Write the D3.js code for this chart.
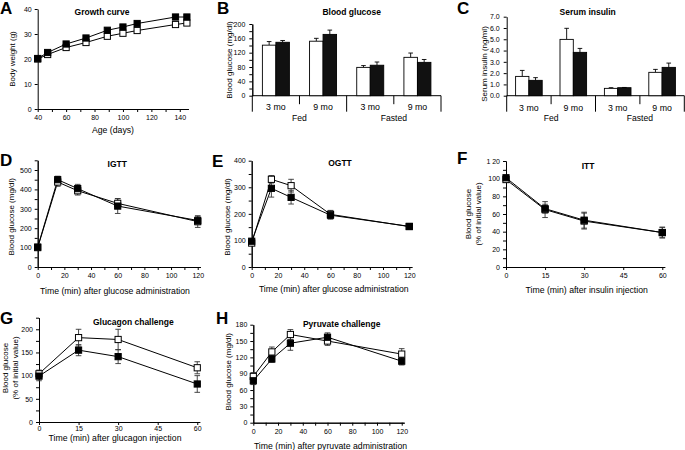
<!DOCTYPE html>
<html><head><meta charset="utf-8">
<script src="https://cdn.jsdelivr.net/npm/d3@7"></script>
<style>
body{margin:0;background:#fff}
svg{display:block;font-family:"Liberation Sans",Arial,Helvetica,sans-serif}
</style>
</head><body>
<svg id="chart" width="685" height="450"></svg>
<script>
// ---------- DATA ----------
// A: growth curve
const ageDays      = [40, 47, 60, 74, 89, 100, 110, 137, 145];
const weightFilled = [20.2, 22.6, 26.0, 28.4, 31.5, 32.8, 34.2, 36.8, 36.8];
const weightOpen   = [20.0, 21.8, 24.6, 26.6, 29.1, 30.3, 31.4, 33.8, 34.4];
const ageTicks     = [40, 60, 80, 100, 120, 140];
const weightTicks  = [0, 10, 20, 30, 40];

// B / C: bar panels
const barSubLabels   = ["3 mo", "9 mo", "3 mo", "9 mo"];
const barGroupLabels = ["Fed", "Fasted"];
const glucOpen       = [141, 152, 79, 107];
const glucOpenErr    = [10, 8, 5, 12];
const glucFilled     = [149, 171, 85, 93];
const glucFilledErr  = [5, 12, 9, 8];
const glucTicks      = [0, 40, 80, 120, 160, 200];
const insOpen        = [1.71, 4.99, 0.65, 2.07];
const insOpenErr     = [0.53, 0.98, 0.06, 0.26];
const insFilled      = [1.36, 3.84, 0.71, 2.51];
const insFilledErr   = [0.24, 0.35, 0.02, 0.38];
const insTicks       = [0, 1, 2, 3, 4, 5, 6, 7];

// D: IGTT
const tolTime         = [0, 15, 30, 60, 120];
const igttOpen        = [100, 438, 393, 328, 234];
const igttOpenErr     = [8, 22, 22, 25, 30];
const igttFilled      = [103, 450, 404, 314, 240];
const igttFilledErr   = [8, 18, 22, 38, 22];
const igttYTicks      = [0, 100, 200, 300, 400, 500];
// E: OGTT
const ogttOpen        = [90, 330, 306, 198, 152];
const ogttOpenErr     = [8, 14, 24, 15, 10];
const ogttFilled      = [97, 296, 262, 195, 153];
const ogttFilledErr   = [8, 33, 25, 15, 10];
const ogttYTicks      = [0, 100, 200, 300, 400];
const time120Ticks    = [0, 20, 40, 60, 80, 100, 120];
// F: ITT
const shortTime       = [0, 15, 30, 60];
const ittOpen         = [99, 65, 52, 39];
const ittOpenErr      = [3, 9, 9, 6];
const ittFilled       = [101, 66, 53, 39];
const ittFilledErr    = [3, 5, 9, 6];
const ittYTicks       = [0, 20, 40, 60, 80, 100, 120];
const ittYLabels      = ["0", "20", "40", "60", "80", "100", "1 20"];
const time60Ticks     = [0, 15, 30, 45, 60];
// G: glucagon
const glucagonOpen      = [104, 182, 178, 117];
const glucagonOpenErr   = [8, 18, 22, 13];
const glucagonFilled    = [99, 155, 141, 82];
const glucagonFilledErr = [10, 12, 15, 18];
const glucagonYTicks    = [0, 50, 100, 150, 200];
// H: pyruvate
const pyrOpen         = [85, 130, 162, 150, 126];
const pyrOpenErr      = [7, 9, 9, 8, 10];
const pyrFilled       = [77, 117, 146, 157, 113];
const pyrFilledErr    = [7, 6, 13, 8, 7];
const pyrYTicks       = [0, 30, 60, 90, 120, 150, 180];

// ---------- DRAW ----------
const svg = d3.select("#chart");
const TICK_FS = 7, XLAB_FS = 8.7, YLAB_FS = 8, TITLE_FS = 8.5;

function letter(t, x, y) {
  svg.append("text").attr("x", x).attr("y", y).attr("font-size", 17)
    .attr("font-weight", "bold").text(t);
}
function title(t, x, y) {
  svg.append("text").attr("x", x).attr("y", y).attr("text-anchor", "middle")
    .attr("font-size", TITLE_FS).attr("font-weight", "bold").text(t);
}
function ylabel(lines, cx, cy) {
  const g = svg.append("g").attr("transform", `translate(${cx},${cy}) rotate(-90)`);
  const n = lines.length;
  lines.forEach((l, i) => {
    g.append("text").attr("x", 0).attr("y", (i - (n - 1) / 2) * 9.5 + 3)
      .attr("text-anchor", "middle").attr("font-size", YLAB_FS).text(l);
  });
}
function xlabel(t, cx, y) {
  svg.append("text").attr("x", cx).attr("y", y).attr("text-anchor", "middle")
    .attr("font-size", XLAB_FS).text(t);
}
function styleAxis(g) {
  g.selectAll("path,line").attr("stroke", "#000").attr("stroke-width", 1);
  g.selectAll("text").attr("font-size", TICK_FS).attr("fill", "#000")
    .attr("font-family", "Liberation Sans, Arial, sans-serif");
}

function linePanel(cfg) {
  const x = d3.scaleLinear().domain(cfg.xDomain).range(cfg.xRange);
  const y = d3.scaleLinear().domain(cfg.yDomain).range(cfg.yRange);
  const y0 = cfg.yRange[0], x0 = cfg.xRange[0];
  const xPad = cfg.xPad != null ? cfg.xPad : 3;
  if (cfg.xMinor) {
    const gm = svg.append("g").attr("transform", `translate(0,${y0})`)
      .call(d3.axisBottom(x).tickValues(cfg.xMinor).tickSize(3).tickSizeOuter(0).tickFormat(""));
    styleAxis(gm);
  }
  if (cfg.yMinor) {
    const gm = svg.append("g").attr("transform", `translate(${x0},0)`)
      .call(d3.axisLeft(y).tickValues(cfg.yMinor).tickSize(3).tickSizeOuter(0).tickFormat(""));
    styleAxis(gm);
  }
  const gx = svg.append("g").attr("transform", `translate(0,${y0})`)
    .call(d3.axisBottom(x).tickValues(cfg.xTicks).tickSize(3).tickSizeOuter(0).tickPadding(xPad));
  styleAxis(gx);
  const yAxis = d3.axisLeft(y).tickValues(cfg.yTicks).tickSize(3).tickSizeOuter(0).tickPadding(3);
  if (cfg.yLabels) yAxis.tickFormat((d, i) => cfg.yLabels[i]);
  const gy = svg.append("g").attr("transform", `translate(${x0},0)`).call(yAxis);
  styleAxis(gy);

  const line = d3.line().x(d => x(d[0])).y(d => y(d[1]));
  const series = [
    {v: cfg.open, e: cfg.openErr, fill: "#fff"},
    {v: cfg.filled, e: cfg.filledErr, fill: "#000"}
  ];
  const cap = 2.8;
  series.forEach(s => {
    const pts = cfg.xs.map((t, i) => [t, s.v[i]]);
    svg.append("path").datum(pts).attr("d", line).attr("fill", "none")
      .attr("stroke", "#000").attr("stroke-width", 1);
  });
  series.forEach(s => {
    if (!s.e) return;
    cfg.xs.forEach((t, i) => {
      const cx = x(t), top = y(s.v[i] + s.e[i]), bot = y(s.v[i] - s.e[i]);
      const g = svg.append("g").attr("stroke", "#333").attr("stroke-width", 0.9);
      g.append("line").attr("x1", cx).attr("x2", cx).attr("y1", top).attr("y2", bot);
      g.append("line").attr("x1", cx - cap).attr("x2", cx + cap).attr("y1", top).attr("y2", top);
      g.append("line").attr("x1", cx - cap).attr("x2", cx + cap).attr("y1", bot).attr("y2", bot);
    });
  });
  const ms = 6.2;
  series.forEach(s => {
    svg.append("g").selectAll("rect").data(cfg.xs.map((t, i) => [t, s.v[i]])).join("rect")
      .attr("x", d => x(d[0]) - ms / 2).attr("y", d => y(d[1]) - ms / 2)
      .attr("width", ms).attr("height", ms)
      .attr("fill", s.fill).attr("stroke", "#000").attr("stroke-width", 1);
  });
}

function barPanel(cfg) {
  const y = d3.scaleLinear().domain(cfg.yDomain).range(cfg.yRange);
  const base = cfg.yRange[0];
  const xb = d3.scaleBand().domain(d3.range(cfg.open.length)).range(cfg.xRange).padding(0);
  const bw = cfg.barW;
  if (cfg.yMinor) {
    const gm = svg.append("g").attr("transform", `translate(${cfg.xRange[0]},0)`)
      .call(d3.axisLeft(y).tickValues(cfg.yMinor).tickSize(3).tickSizeOuter(0).tickFormat(""));
    styleAxis(gm);
  }
  const gy = svg.append("g").attr("transform", `translate(${cfg.xRange[0]},0)`)
    .call(d3.axisLeft(y).tickValues(cfg.yTicks).tickSize(3).tickSizeOuter(0).tickPadding(4));
  styleAxis(gy);
  svg.append("line").attr("x1", cfg.xRange[0]).attr("x2", cfg.xRange[1])
    .attr("y1", base).attr("y2", base).attr("stroke", "#000");
  const n = cfg.open.length;
  for (let i = 0; i <= n; i++) {
    const sx = i < n ? xb(i) : xb(n - 1) + xb.bandwidth();
    const long = (i % 2 === 0);
    svg.append("line").attr("x1", sx).attr("x2", sx).attr("y1", base)
      .attr("y2", base + (long ? cfg.longSep : cfg.shortSep)).attr("stroke", "#000");
  }
  const series = [
    {v: cfg.open, e: cfg.openErr, fill: "#fff", off: -bw},
    {v: cfg.filled, e: cfg.filledErr, fill: "#111", off: 0}
  ];
  series.forEach(s => {
    s.v.forEach((val, i) => {
      const cx = xb(i) + xb.bandwidth() / 2 + s.off;
      const top = y(val + s.e[i]);
      svg.append("line").attr("x1", cx + bw / 2).attr("x2", cx + bw / 2)
        .attr("y1", y(val)).attr("y2", top).attr("stroke", "#000").attr("stroke-width", 0.9);
      svg.append("line").attr("x1", cx + bw / 2 - 2.3).attr("x2", cx + bw / 2 + 2.3)
        .attr("y1", top).attr("y2", top).attr("stroke", "#000").attr("stroke-width", 0.9);
      svg.append("rect").attr("x", cx).attr("y", y(val)).attr("width", bw)
        .attr("height", base - y(val)).attr("fill", s.fill).attr("stroke", "#000")
        .attr("stroke-width", 0.9);
    });
  });
  cfg.sub.forEach((t, i) => {
    svg.append("text").attr("x", xb(i) + xb.bandwidth() / 2).attr("y", cfg.subY)
      .attr("text-anchor", "middle").attr("font-size", 8.8).text(t);
  });
  cfg.groups.forEach((t, gi) => {
    const gx = xb(gi * 2) + xb.bandwidth();
    svg.append("text").attr("x", gx).attr("y", cfg.groupY)
      .attr("text-anchor", "middle").attr("font-size", 8.6).text(t);
  });
}

// ----- Panel A -----
letter("A", 0, 14);
title("Growth curve", 102, 15);
linePanel({
  xs: ageDays, open: weightOpen, filled: weightFilled,
  xDomain: [40, 146], xRange: [37.7, 188.3], yDomain: [0, 40], yRange: [109, 9],
  xTicks: ageTicks, xMinor: d3.range(50, 146, 20), yTicks: weightTicks
});
ylabel(["Body weight (g)"], 11.5, 59);
xlabel("Age (days)", 113, 132.5);

// ----- Panel B -----
letter("B", 217, 14);
title("Blood glucose", 351.7, 15);
barPanel({
  open: glucOpen, openErr: glucOpenErr, filled: glucFilled, filledErr: glucFilledErr,
  yDomain: [0, 200], yRange: [95.7, 24], yTicks: glucTicks, yMinor: d3.range(20, 200, 40),
  xRange: [252.3, 441], barW: 13.5, longSep: 16, shortSep: 8.5,
  sub: barSubLabels, groups: barGroupLabels, subY: 110, groupY: 121
});
ylabel(["Blood glucose (mg/dl)"], 228.5, 60);

// ----- Panel C -----
letter("C", 457, 14);
title("Serum insulin", 587.7, 15);
barPanel({
  open: insOpen, openErr: insOpenErr, filled: insFilled, filledErr: insFilledErr,
  yDomain: [0, 7], yRange: [95.7, 16.7], yTicks: insTicks,
  xRange: [506.7, 684.3], barW: 13.3, longSep: 16, shortSep: 8.5,
  sub: barSubLabels, groups: barGroupLabels, subY: 110.5, groupY: 121
});
ylabel(["Serum insulin (ng/ml)"], 483.5, 64);

// ----- Panel D -----
letter("D", 0, 166);
title("IGTT", 117.3, 166.5);
linePanel({
  xs: tolTime, open: igttOpen, openErr: igttOpenErr, filled: igttFilled, filledErr: igttFilledErr,
  xDomain: [0, 122], xRange: [37.7, 200.4], yDomain: [0, 550], yRange: [267, 160.3],
  xTicks: time120Ticks, xMinor: d3.range(10, 121, 20), yTicks: igttYTicks, yMinor: d3.range(50, 551, 100)
});
ylabel(["Blood glucose (mg/dl)"], 11, 216.7);
xlabel("Time (min) after glucose administration", 115, 294);

// ----- Panel E -----
letter("E", 212, 167);
title("OGTT", 340, 166);
linePanel({
  xs: tolTime, open: ogttOpen, openErr: ogttOpenErr, filled: ogttFilled, filledErr: ogttFilledErr,
  xDomain: [0, 122], xRange: [251.7, 411.9], yDomain: [0, 400], yRange: [267, 160.7],
  xTicks: time120Ticks, xMinor: d3.range(10, 121, 20), yTicks: ogttYTicks, yMinor: d3.range(50, 401, 100)
});
ylabel(["Blood glucose (mg/dl)"], 227, 217);
xlabel("Time (min) after glucose administration", 333.8, 291.5);

// ----- Panel F -----
letter("F", 457, 163.5);
title("ITT", 588, 168.5);
linePanel({
  xs: shortTime, open: ittOpen, openErr: ittOpenErr, filled: ittFilled, filledErr: ittFilledErr,
  xDomain: [0, 61], xRange: [506, 664.9], yDomain: [0, 120], yRange: [267, 161],
  xTicks: time60Ticks, yTicks: ittYTicks, yLabels: ittYLabels, yMinor: d3.range(10, 121, 20)
});
ylabel(["Blood glucose", "(% of initial value)"], 473, 214);
xlabel("Time (min) after insulin injection", 586.7, 293);

// ----- Panel G -----
letter("G", 0, 324);
title("Glucagon challenge", 133.3, 324.5);
linePanel({
  xs: shortTime, open: glucagonOpen, openErr: glucagonOpenErr, filled: glucagonFilled, filledErr: glucagonFilledErr,
  xDomain: [0, 61], xRange: [39, 199.9], yDomain: [0, 225], yRange: [422, 317.7],
  xTicks: time60Ticks, yTicks: glucagonYTicks, yMinor: d3.range(25, 226, 50), xPad: 1.5
});
ylabel(["Blood glucose", "(% of initial value)"], 10, 368);
xlabel("Time (min) after glucagon injection", 115, 441);

// ----- Panel H -----
letter("H", 216, 324);
title("Pyruvate challenge", 341.7, 327);
linePanel({
  xs: tolTime, open: pyrOpen, openErr: pyrOpenErr, filled: pyrFilled, filledErr: pyrFilledErr,
  xDomain: [0, 122], xRange: [253.3, 404.2], yDomain: [0, 180], yRange: [422.7, 324.7],
  xTicks: time120Ticks, xMinor: d3.range(10, 121, 20), yTicks: pyrYTicks, yMinor: d3.range(15, 181, 30)
});
ylabel(["Blood glucose (mg/dl)"], 228, 371.7);
xlabel("Time (min) after pyruvate administration", 330.5, 448.5);
</script>
</body></html>
